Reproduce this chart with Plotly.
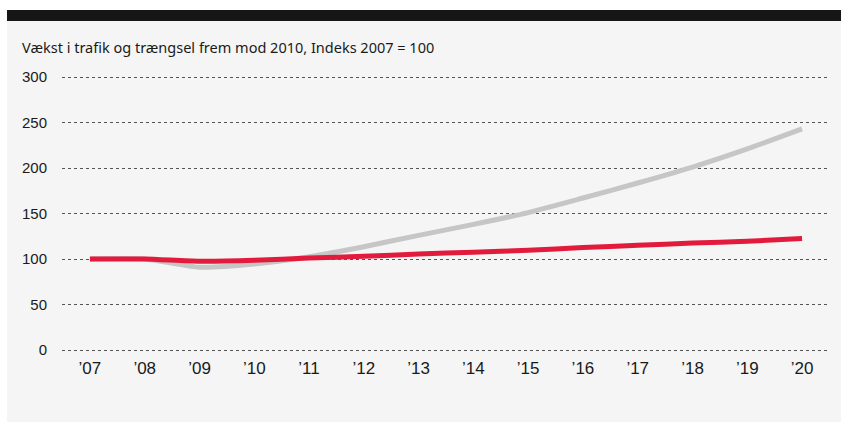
import plotly.graph_objects as go

years = [2007, 2008, 2009, 2010, 2011, 2012, 2013, 2014, 2015, 2016, 2017, 2018, 2019, 2020]
tick_labels = ["’07", "’08", "’09", "’10", "’11", "’12", "’13", "’14", "’15", "’16", "’17", "’18", "’19", "’20"]
traffic = [100, 100, 91, 94.5, 102.5, 113.5, 126, 138, 151, 167, 183.5, 201, 221, 243]
congestion = [100, 100, 97.5, 98.5, 101, 103, 105.5, 107.5, 109.5, 112.5, 115, 117.5, 119.5, 122.5]
y_ticks = [0, 50, 100, 150, 200, 250, 300]
title_text = "Vækst i trafik og trængsel frem mod 2010, Indeks 2007 = 100"

W, H = 841, 422
L, R, T, B = 62, 11, 74, 69
pw, ph = W - L - R, H - T - B

def px(x):
    return (x - L) / pw

def py(y):
    return (H - B - y) / ph

fig = go.Figure()
fig.add_trace(go.Scatter(x=years, y=traffic, mode="lines",
                         line=dict(color="#c6c6c6", width=5, shape="spline", smoothing=0.6),
                         hoverinfo="skip", showlegend=False))
fig.add_trace(go.Scatter(x=years, y=congestion, mode="lines",
                         line=dict(color="#e21b3c", width=5, shape="spline", smoothing=0.6),
                         hoverinfo="skip", showlegend=False))

# white strips (left and top) over the grey paper, then the black bar
fig.add_shape(type="rect", xref="paper", yref="paper", layer="below",
              x0=px(-5), x1=px(7), y0=py(430), y1=py(-5),
              fillcolor="white", line=dict(width=0))
fig.add_shape(type="rect", xref="paper", yref="paper", layer="below",
              x0=px(-5), x1=px(850), y0=py(10), y1=py(-5),
              fillcolor="white", line=dict(width=0))
fig.add_shape(type="rect", xref="paper", yref="paper", layer="below",
              x0=px(7), x1=px(850), y0=py(21), y1=py(10),
              fillcolor="#161616", line=dict(width=0))

fig.add_annotation(text=title_text, xref="paper", yref="paper",
                   x=px(20), y=py(47), xanchor="left", yanchor="middle",
                   showarrow=False, font=dict(family="Noto Sans", size=14.5, color="#1a1a1a"))

fig.update_layout(
    width=W, height=H,
    margin=dict(l=L, r=R, t=T, b=B),
    paper_bgcolor="#f5f5f5",
    plot_bgcolor="rgba(0,0,0,0)",
    xaxis=dict(range=[2006.49, 2020.51], tickmode="array", tickvals=years, ticktext=tick_labels,
               showgrid=False, zeroline=False, showline=False, ticks="",
               tickfont=dict(family="Liberation Sans", size=17, color="#1a1a1a"),
               ticklabelstandoff=3),
    yaxis=dict(range=[-3.3, 303.3], tickmode="array", tickvals=y_ticks,
               showgrid=True, gridcolor="#555555", griddash="dot", gridwidth=1,
               zeroline=False, showline=False, ticks="",
               tickfont=dict(family="Liberation Sans", size=15, color="#1a1a1a"),
               ticklabelstandoff=14),
)

fig.write_html("out.html", config={"displayModeBar": False},
               post_script="document.body.style.margin='0';document.body.style.overflow='hidden';")
